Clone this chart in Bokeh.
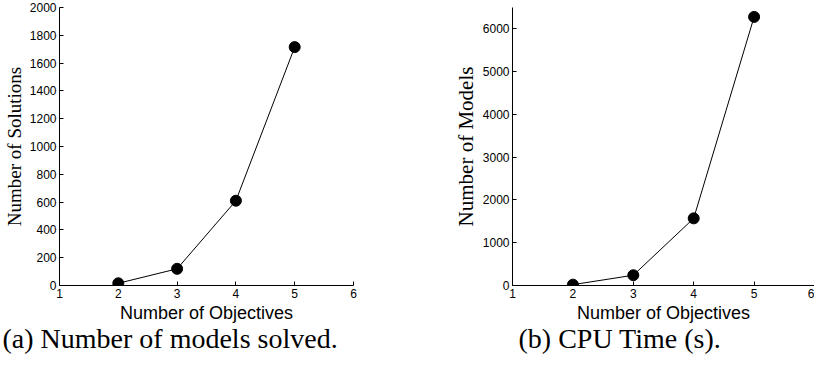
from bokeh.plotting import figure
from bokeh.layouts import row
from bokeh.models import Range1d, FixedTicker, Title
from bokeh.embed import file_html
from bokeh.resources import INLINE

objectives = [2, 3, 4, 5]
solutions = [16, 120, 610, 1715]
models = [20, 240, 1570, 6280]
x_ticks = [1, 2, 3, 4, 5, 6]
y_ticks_a = list(range(0, 2001, 200))
y_ticks_b = list(range(0, 6001, 1000))

SANS = "Liberation Sans"
SERIF = "Liberation Serif"


def make(width, ys, ymax, yticks, ylabel, ylabel_size, caption, bl, br, offset):
    p = figure(width=width, height=366, output_backend="svg", toolbar_location=None,
               x_range=Range1d(1, 6), y_range=Range1d(0, ymax),
               min_border_left=bl, min_border_right=br, min_border_top=7, min_border_bottom=81)
    p.outline_line_color = None
    p.grid.visible = False
    p.background_fill_color = "white"
    p.border_fill_color = "white"
    p.line(objectives, ys, line_color="black", line_width=1)
    p.scatter(objectives, ys, size=11, fill_color="black", line_color="black")
    p.xaxis.ticker = FixedTicker(ticks=x_ticks)
    p.yaxis.ticker = FixedTicker(ticks=yticks)
    for ax in (p.xaxis, p.yaxis):
        ax.major_tick_in = 4
        ax.major_tick_out = 0
        ax.minor_tick_in = 0
        ax.minor_tick_out = 0
        ax.axis_line_color = "black"
        ax.major_tick_line_color = "black"
        ax.major_label_text_font = SANS
        ax.major_label_text_font_size = "12px"
        ax.major_label_text_color = "black"
        ax.major_label_standoff = 3
        ax.axis_label_standoff = 2
        ax.axis_label_text_font_style = "normal"
        ax.axis_label_text_color = "black"
    p.xaxis.axis_label = "Number of Objectives"
    p.xaxis.axis_label_text_font = SANS
    p.xaxis.axis_label_text_font_size = "18px"
    p.yaxis.axis_label = ylabel
    p.yaxis.axis_label_text_font = SERIF
    p.yaxis.axis_label_text_font_size = ylabel_size
    t = Title(text=caption, align="left", offset=offset, text_font=SERIF,
              text_font_size="28px", text_font_style="normal", text_color="black", standoff=-9)
    p.add_layout(t, "below")
    return p


pa = make(420, solutions, 2000, y_ticks_a, "Number of Solutions", "19px",
          "(a) Number of models solved.", 57, 67, -57)
pb = make(394, models, 6500, y_ticks_b, "Number of Models", "21px",
          "(b) CPU Time (s).", 92, 0, 6)

layout = row(pa, pb)
open("out.html", "w").write(file_html(layout, INLINE))
